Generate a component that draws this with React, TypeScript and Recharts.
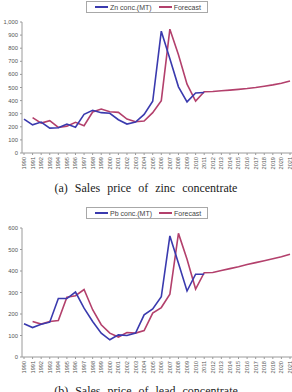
import React from 'react';
import { LineChart, Line, XAxis, YAxis } from 'recharts';

const years = ['1990','1991','1992','1993','1994','1995','1996','1997','1998','1999','2000','2001','2002','2003','2004','2005','2006','2007','2008','2009','2010','2011','2012','2013','2014','2015','2016','2017','2018','2019','2020','2021'];

const znActual: (number | null)[] = [258,215,236,190,193,221,197,295,326,308,303,254,221,236,295,395,930,720,505,390,458,462,null,null,null,null,null,null,null,null,null,null];
const znForecast: (number | null)[] = [null,270,228,247,195,205,234,208,313,336,315,310,259,239,244,308,400,945,750,525,397,468,470,475,480,486,492,500,510,520,532,550];

const pbActual: (number | null)[] = [155,137,152,162,272,272,302,227,165,111,80,103,100,111,196,224,280,563,436,307,385,385,null,null,null,null,null,null,null,null,null,null];
const pbForecast: (number | null)[] = [null,165,153,165,170,278,285,314,220,150,111,93,114,111,123,204,230,292,575,455,316,392,393,402,411,420,430,439,448,457,466,478];

const znTicks = [0,100,200,300,400,500,600,700,800,900,1000];
const pbTicks = [0,100,200,300,400,500,600];

const znNames = ['Zn conc.(MT)', 'Forecast'];
const pbNames = ['Pb conc.(MT)', 'Forecast'];
const titles = ['(a) Sales price of zinc concentrate', '(b) Sales price of lead concentrate'];

const BLUE = '#3a3aae';
const RED = '#b3406c';
const AXIS = '#9a9a9a';
const TXT = '#555';

const znData = years.map((y, i) => ({ year: y, actual: znActual[i], forecast: znForecast[i] }));
const pbData = years.map((y, i) => ({ year: y, actual: pbActual[i], forecast: pbForecast[i] }));

const XTick = (props: any) => {
  const { x, y, payload } = props;
  return (
    <text x={x} y={y} transform={`rotate(-90 ${x} ${y})`} textAnchor="end" dy="0.35em" fontSize={5.6} fill={TXT} fontFamily="Liberation Sans, Arial, sans-serif">
      {payload.value}
    </text>
  );
};

const fmt = (v: number) => v.toLocaleString('en-US');

const LegendBox = ({ names, top }: { names: string[]; top: number }) => (
  <div style={{ position: 'absolute', left: 86, top, width: 122, height: 12, border: '1px solid #a8a8a8', boxSizing: 'border-box', background: '#fff', fontFamily: 'Liberation Sans, Arial, sans-serif', fontSize: 7, color: '#444', display: 'flex', alignItems: 'center' }}>
    <div style={{ marginLeft: 8, width: 13, height: 2, background: BLUE }} />
    <span style={{ marginLeft: 2 }}>{names[0]}</span>
    <div style={{ marginLeft: 7, width: 13, height: 2, background: RED }} />
    <span style={{ marginLeft: 2 }}>{names[1]}</span>
  </div>
);

const Chart = ({ data, ticks, max, height }: any) => (
  <LineChart width={292} height={height} data={data} margin={{ top: 22, right: 0, bottom: 0, left: 0 }}>
    <XAxis dataKey="year" interval={0} tick={<XTick />} height={25} tickSize={2} tickMargin={2} stroke={AXIS} padding={{ left: 2, right: 2 }} />
    <YAxis domain={[0, max]} ticks={ticks} width={22} tickSize={2} tickMargin={2} stroke={AXIS} tickFormatter={fmt} tick={{ fontSize: 5.8, fill: TXT, fontFamily: 'Liberation Sans, Arial, sans-serif' }} />
    <Line type="linear" dataKey="forecast" stroke={RED} strokeWidth={1.6} dot={false} isAnimationActive={false} />
    <Line type="linear" dataKey="actual" stroke={BLUE} strokeWidth={1.6} dot={false} isAnimationActive={false} />
  </LineChart>
);

const Title = ({ text, top }: { text: string; top: number }) => (
  <div style={{ position: 'absolute', left: 0, top, width: 292, textAlign: 'center', fontFamily: 'Liberation Serif, Times New Roman, serif', fontSize: 12, wordSpacing: 4, color: '#222', whiteSpace: 'nowrap', lineHeight: '14px' }}>
    {text}
  </div>
);

export default function App() {
  return (
    <div style={{ position: 'absolute', left: 0, top: 0, width: 292, height: 392, overflow: 'hidden', background: '#fff' }}>
      <div style={{ position: 'absolute', left: 0, top: 0 }}>
        <Chart data={znData} ticks={znTicks} max={1000} height={178} />
      </div>
      <LegendBox names={znNames} top={1} />
      <Title text={titles[0]} top={181} />
      <div style={{ position: 'absolute', left: 0, top: 206 }}>
        <Chart data={pbData} ticks={pbTicks} max={600} height={176} />
      </div>
      <LegendBox names={pbNames} top={207} />
      <Title text={titles[1]} top={384} />
    </div>
  );
}
